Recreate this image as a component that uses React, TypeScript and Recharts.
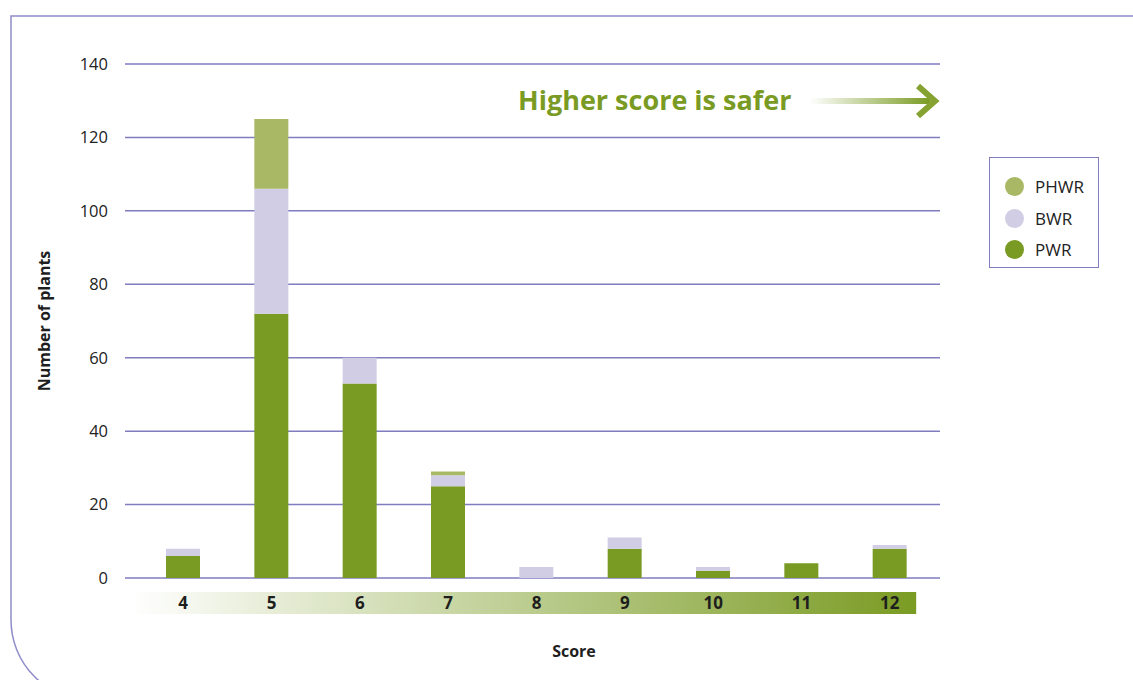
import { BarChart, Bar, XAxis, YAxis, CartesianGrid, Legend } from "recharts";

const scores = ["4", "5", "6", "7", "8", "9", "10", "11", "12"];
const pwr = [6, 72, 53, 25, 0, 8, 2, 4, 8];
const bwr = [2, 34, 7, 3, 3, 3, 1, 0, 1];
const phwr = [0, 19, 0, 1, 0, 0, 0, 0, 0];
const yTicks = [0, 20, 40, 60, 80, 100, 120, 140];
const legendOrder = ["PHWR", "BWR", "PWR"];

const data = scores.map((s, i) => ({
  score: s,
  PWR: pwr[i],
  BWR: bwr[i],
  PHWR: phwr[i],
}));

const GREEN = "#7a9b23";
const LILAC = "#d0cde4";
const OLIVE = "#a8b864";
const GRID = "#7f7dbf";
const FONT = "'Open Sans', sans-serif";

const ScoreTick = (props: any) => {
  const { x, y, payload, index } = props;
  return (
    <g>
      {index === 0 && (
        <rect x={x - 53} y={y + 14} width={786} height={22} fill="url(#scoreBand)" />
      )}
      <text
        x={x}
        y={y + 31}
        textAnchor="middle"
        fontFamily={FONT}
        fontWeight={700}
        fontSize={17}
        fill="#1e1e1e"
      >
        {payload.value}
      </text>
    </g>
  );
};

const LegendBox = (props: any) => {
  const items = [...(props.payload || [])].sort(
    (a: any, b: any) => legendOrder.indexOf(a.value) - legendOrder.indexOf(b.value)
  );
  return (
    <div
      style={{
        width: 110,
        height: 111,
        border: `1.5px solid ${GRID}`,
        boxSizing: "border-box",
        paddingTop: 13,
        fontFamily: FONT,
        fontSize: 17,
        color: "#222",
      }}
    >
      {items.map((it: any) => (
        <div
          key={it.value}
          style={{ display: "flex", alignItems: "center", height: 31.5, paddingLeft: 15 }}
        >
          <span
            style={{
              width: 19,
              height: 19,
              borderRadius: "50%",
              background: it.color,
              display: "inline-block",
              marginRight: 11,
            }}
          />
          {it.value}
        </div>
      ))}
    </div>
  );
};

export default function App() {
  return (
    <div
      style={{
        position: "absolute",
        left: 0,
        top: 0,
        width: 1133,
        height: 680,
        overflow: "hidden",
        background: "#fff",
      }}
    >
      <svg width={1133} height={680} style={{ position: "absolute", left: 0, top: 0 }}>
        <defs>
          <linearGradient id="arrowFade" x1="0" x2="1" y1="0" y2="0">
            <stop offset="0%" stopColor="#ffffff" />
            <stop offset="100%" stopColor="#7a9b23" />
          </linearGradient>
        </defs>
        <path
          d="M 1133 16 H 11 V 620 A 80 80 0 0 0 91 700"
          fill="none"
          stroke="#8f8cc8"
          strokeWidth={1.5}
        />
        <text
          x={518}
          y={110}
          fontFamily={FONT}
          fontWeight={700}
          fontSize={27}
          fill={GREEN}
        >
          Higher score is safer
        </text>
        <rect x={810} y={98} width={120} height={6} fill="url(#arrowFade)" />
        <path
          d="M 918 86 L 935 101 L 918 116"
          fill="none"
          stroke="#86a332"
          strokeWidth={6}
        />
      </svg>
      <BarChart
        width={1133}
        height={680}
        data={data}
        margin={{ top: 64, right: 83, left: 0, bottom: 12 }}
        barCategoryGap={0}
        style={{ position: "absolute", left: 0, top: 0 }}
      >
        <defs>
          <linearGradient id="scoreBand" x1="0" x2="1" y1="0" y2="0">
            <stop offset="0%" stopColor="#ffffff" />
            <stop offset="100%" stopColor="#7a9b23" />
          </linearGradient>
        </defs>
        <CartesianGrid vertical={false} stroke={GRID} strokeWidth={1.5} />
        <XAxis
          dataKey="score"
          axisLine={false}
          tickLine={false}
          tickSize={0}
          tickMargin={0}
          height={90}
          padding={{ left: 14, right: 6 }}
          interval={0}
          tick={<ScoreTick />}
          label={({ viewBox }: any) => (
            <text
              x={574}
              y={viewBox.y + 79}
              textAnchor="middle"
              fontFamily={FONT}
              fontWeight={700}
              fontSize={16}
              fill="#1e1e1e"
            >
              Score
            </text>
          )}
        />
        <YAxis
          domain={[0, 140]}
          ticks={yTicks}
          width={125}
          axisLine={false}
          tickLine={false}
          tickSize={0}
          tickMargin={17}
          tick={{ fontFamily: FONT, fontSize: 16.5, fill: "#222" }}
          label={({ viewBox }: any) => {
            const cy = viewBox.y + viewBox.height / 2;
            return (
              <text
                x={50}
                y={cy}
                transform={`rotate(-90 50 ${cy})`}
                textAnchor="middle"
                fontFamily={FONT}
                fontWeight={700}
                fontSize={16}
                fill="#1e1e1e"
              >
                Number of plants
              </text>
            );
          }}
        />
        <Legend
          layout="vertical"
          verticalAlign="top"
          align="right"
          content={<LegendBox />}
          wrapperStyle={{ position: "absolute", left: 989, top: 157, width: 110 }}
        />
        <Bar dataKey="PWR" stackId="a" fill={GREEN} barSize={34} isAnimationActive={false} />
        <Bar dataKey="BWR" stackId="a" fill={LILAC} barSize={34} isAnimationActive={false} />
        <Bar dataKey="PHWR" stackId="a" fill={OLIVE} barSize={34} isAnimationActive={false} />
      </BarChart>
    </div>
  );
}
